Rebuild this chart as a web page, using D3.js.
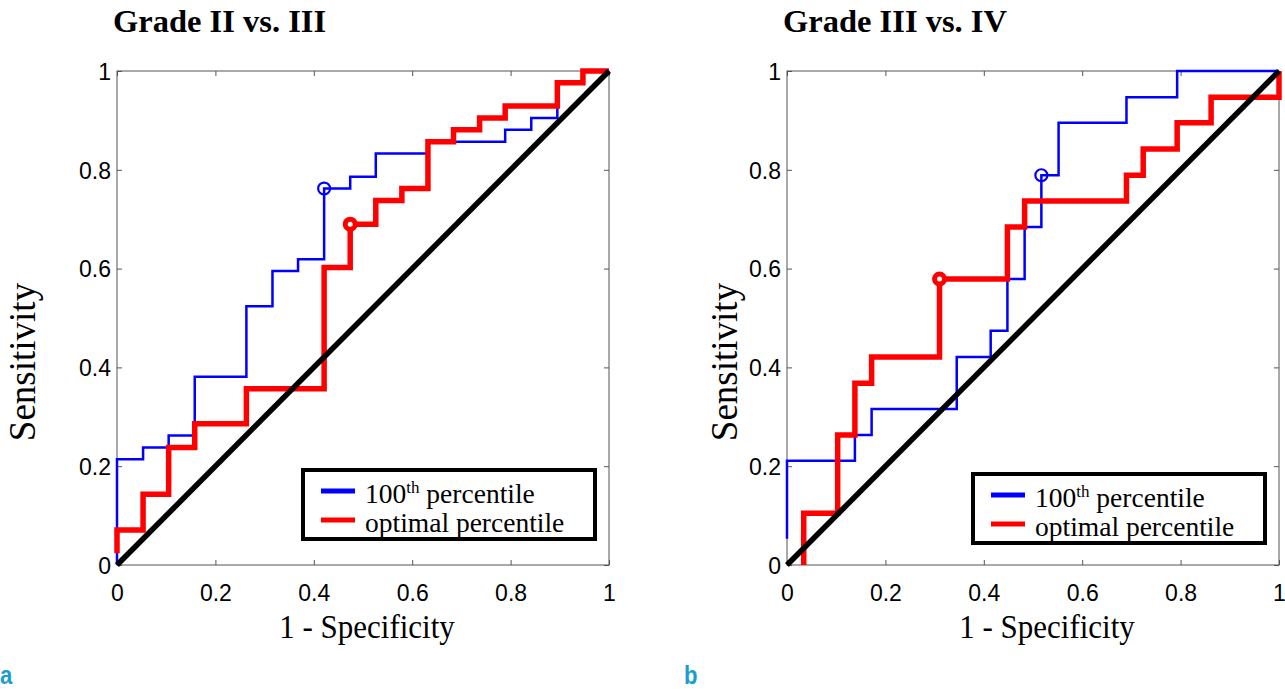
<!DOCTYPE html>
<html>
<head>
<meta charset="utf-8">
<script src="https://cdn.jsdelivr.net/npm/d3@7"></script>
<style>
  html, body { margin: 0; padding: 0; background: #fff; }
  svg { display: block; }
</style>
</head>
<body>
<svg id="fig" width="1285" height="689"></svg>
<script>
// ROC operating points (1 - specificity, sensitivity), joined as step curves
const titles = ["Grade II vs. III", "Grade III vs. IV"];
const panelLetters = ["a", "b"];
const tickValues = [0, 0.2, 0.4, 0.6, 0.8, 1];
const tickLabels = ["0", "0.2", "0.4", "0.6", "0.8", "1"];
const seriesNames = ["100th percentile", "optimal percentile"];

// Panel a: Grade II vs. III
const aMaxFpr = [0, 0, 0.053, 0.105, 0.158, 0.263, 0.316, 0.368, 0.421, 0.474, 0.526, 0.632, 0.789, 0.842, 0.895, 0.947, 1];
const aMaxTpr = [0, 0.214, 0.238, 0.262, 0.381, 0.524, 0.595, 0.619, 0.762, 0.786, 0.833, 0.857, 0.881, 0.905, 0.976, 1, 1];
const aOptFpr = [0, 0, 0.053, 0.105, 0.158, 0.263, 0.421, 0.474, 0.526, 0.579, 0.632, 0.684, 0.737, 0.789, 0.895, 0.947, 1];
const aOptTpr = [0.024, 0.071, 0.143, 0.238, 0.286, 0.357, 0.602, 0.690, 0.738, 0.762, 0.857, 0.881, 0.905, 0.929, 0.976, 1, 1];
const aMaxCut = [0.421, 0.762];
const aOptCut = [0.474, 0.690];

// Panel b: Grade III vs. IV
const bMaxFpr = [0, 0, 0.138, 0.172, 0.345, 0.414, 0.448, 0.483, 0.517, 0.552, 0.690, 0.793, 1];
const bMaxTpr = [0.053, 0.211, 0.263, 0.316, 0.421, 0.474, 0.579, 0.684, 0.789, 0.895, 0.947, 1, 1];
const bOptFpr = [0.034, 0.034, 0.103, 0.138, 0.172, 0.310, 0.448, 0.483, 0.690, 0.724, 0.793, 0.862, 1];
const bOptTpr = [0, 0.105, 0.263, 0.368, 0.421, 0.579, 0.684, 0.737, 0.789, 0.842, 0.895, 0.947, 1];
const bMaxCut = [0.517, 0.789];
const bOptCut = [0.310, 0.579];

const panels = [
  { left: 117, labelX: 35, xLabelShift: 4, legendX: 303, legendY: 470, letterX: 0,
    max: [aMaxFpr, aMaxTpr], opt: [aOptFpr, aOptTpr], maxCut: aMaxCut, optCut: aOptCut },
  { left: 787, labelX: 737, xLabelShift: 14, legendX: 973, legendY: 474, letterX: 684,
    max: [bMaxFpr, bMaxTpr], opt: [bOptFpr, bOptTpr], maxCut: bMaxCut, optCut: bOptCut }
];

const W = 492, H = 494, TOP = 71;
const serif = "'Liberation Serif', 'Times New Roman', serif";
const sans = "'Liberation Sans', Arial, sans-serif";
const svg = d3.select("#fig");

panels.forEach((p, i) => {
  const x = d3.scaleLinear().domain([0, 1]).range([p.left, p.left + W]);
  const y = d3.scaleLinear().domain([0, 1]).range([TOP + H, TOP]);
  const g = svg.append("g");

  // frame with inward ticks on all sides
  const axisStyle = sel => {
    sel.select(".domain").remove();
    sel.selectAll(".tick line").attr("stroke", "#555").attr("stroke-width", 1);
  };
  g.append("g").attr("transform", `translate(0,${TOP + H})`)
    .call(d3.axisBottom(x).tickValues(tickValues).tickSize(-5).tickFormat((d, k) => tickLabels[k]))
    .call(axisStyle)
    .call(s => s.selectAll("text").attr("font-family", sans).attr("font-size", 23).attr("fill", "#000")
      .attr("dy", "0.71em").attr("y", 20));
  g.append("g").attr("transform", `translate(0,${TOP})`)
    .call(d3.axisTop(x).tickValues(tickValues).tickSize(-5).tickFormat(""))
    .call(axisStyle);
  g.append("g").attr("transform", `translate(${p.left},0)`)
    .call(d3.axisLeft(y).tickValues(tickValues).tickSize(-5).tickFormat((d, k) => tickLabels[k]))
    .call(axisStyle)
    .call(s => s.selectAll("text").attr("font-family", sans).attr("font-size", 23).attr("fill", "#000")
      .attr("x", -6).attr("dy", "0.36em"));
  g.append("g").attr("transform", `translate(${p.left + W},0)`)
    .call(d3.axisRight(y).tickValues(tickValues).tickSize(-5).tickFormat(""))
    .call(axisStyle);
  g.append("rect").attr("x", p.left).attr("y", TOP).attr("width", W).attr("height", H)
    .attr("fill", "none").attr("stroke", "#555").attr("stroke-width", 1);

  const step = d3.line().x(d => x(d[0])).y(d => y(d[1])).curve(d3.curveStepAfter);
  const pts = arr => arr[0].map((v, k) => [v, arr[1][k]]);

  g.append("path").attr("d", step(pts(p.max)))
    .attr("fill", "none").attr("stroke", "#0000ff").attr("stroke-width", 2.5);
  g.append("path").attr("d", step(pts(p.opt)))
    .attr("fill", "none").attr("stroke", "#ff0000").attr("stroke-width", 5.5);
  g.append("line")
    .attr("x1", x(0)).attr("y1", y(0)).attr("x2", x(1)).attr("y2", y(1))
    .attr("stroke", "#000").attr("stroke-width", 5.5);

  g.append("circle").attr("cx", x(p.maxCut[0])).attr("cy", y(p.maxCut[1])).attr("r", 6)
    .attr("fill", "none").attr("stroke", "#0000ff").attr("stroke-width", 2.2);
  g.append("circle").attr("cx", x(p.optCut[0])).attr("cy", y(p.optCut[1])).attr("r", 5)
    .attr("fill", "#fff").attr("stroke", "#ff0000").attr("stroke-width", 5);

  // titles and axis labels
  g.append("text").attr("x", p.left - 4).attr("y", 32)
    .attr("font-family", serif).attr("font-weight", "bold").attr("font-size", 32.5)
    .text(titles[i]);
  g.append("text").attr("transform", `translate(${p.left + W / 2 + p.xLabelShift},638) scale(1,1.12)`)
    .attr("text-anchor", "middle")
    .attr("font-family", serif).attr("font-size", 31)
    .text("1 - Specificity");
  g.append("text").attr("transform", `translate(${p.labelX},362) rotate(-90)`)
    .attr("text-anchor", "middle")
    .attr("font-family", serif).attr("font-size", 37)
    .text("Sensitivity");

  // legend
  const lg = g.append("g").attr("transform", `translate(${p.legendX},${p.legendY})`);
  lg.append("rect").attr("width", 292).attr("height", 69)
    .attr("fill", "#fff").attr("stroke", "#000").attr("stroke-width", 4);
  const colors = ["#0000ff", "#ff0000"];
  [0, 1].forEach(k => {
    const cy = 21 + k * 29;
    lg.append("line").attr("x1", 18).attr("x2", 52).attr("y1", cy).attr("y2", cy)
      .attr("stroke", colors[k]).attr("stroke-width", 5);
    const t = lg.append("text").attr("x", 62).attr("y", cy + 12)
      .attr("font-family", serif).attr("font-size", 27.5);
    if (k === 0) {
      t.append("tspan").text("100");
      t.append("tspan").attr("font-size", 17).attr("dy", -10).text("th");
      t.append("tspan").attr("dy", 10).text(" percentile");
    } else {
      t.text(seriesNames[1]);
    }
  });

  // panel letter
  svg.append("text")
    .attr("transform", `translate(${p.letterX},684) scale(0.85,1)`)
    .attr("font-family", sans).attr("font-weight", "bold").attr("font-size", 26)
    .attr("fill", "#1a9ed0")
    .text(panelLetters[i]);
});
</script>
</body>
</html>
